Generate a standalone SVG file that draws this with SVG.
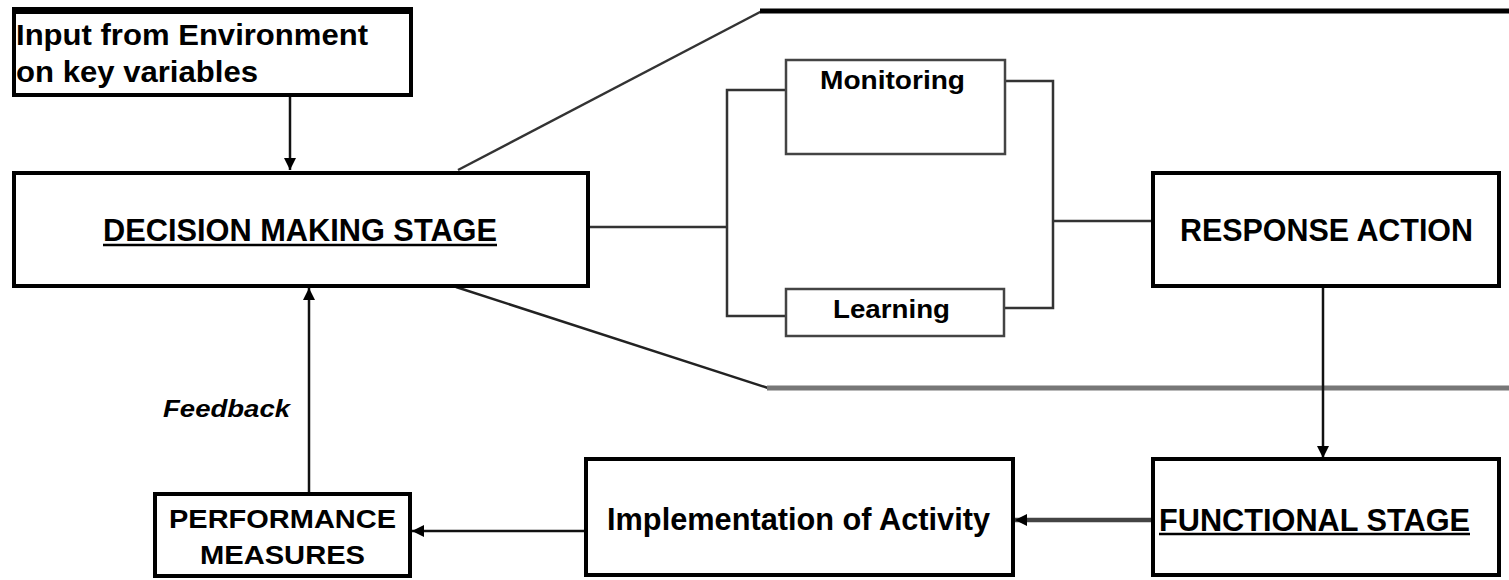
<svg xmlns="http://www.w3.org/2000/svg" width="1509" height="580" viewBox="0 0 1509 580">
  <defs>
    <marker id="arrow" viewBox="0 0 10 10" refX="10" refY="5" markerWidth="12" markerHeight="12" markerUnits="userSpaceOnUse" orient="auto">
      <path d="M0,0 L10,5 L0,10 Z" fill="#000"/>
    </marker>
    <style>
      .box { fill: #fff; stroke: #000; stroke-width: 4; }
      .thin { fill: #fff; stroke: #444; stroke-width: 2.5; }
      .lbl { font-family: "Liberation Sans", Arial, sans-serif; font-weight: bold; fill: #000; }
      .wire { fill: none; stroke: #333; stroke-width: 2.5; }
      .flow { fill: none; stroke: #111; stroke-width: 2.5; marker-end: url(#arrow); }
      .heavy { stroke: #444; stroke-width: 4.5; }
    </style>
  </defs>

  <!-- outline of the expanded decision process -->
  <g id="frame">
    <path d="M458,170 L762,11" fill="none" stroke="#333" stroke-width="2.5"/>
    <line x1="760" y1="11" x2="1509" y2="11" stroke="#000" stroke-width="5"/>
    <path d="M456,287 L768,388" fill="none" stroke="#222" stroke-width="2.5"/>
    <line x1="767" y1="388" x2="1509" y2="388" stroke="#777" stroke-width="5"/>
  </g>

  <g id="connectors">
    <line class="flow" x1="290" y1="95" x2="290" y2="170"/>
    <!-- split to monitoring / learning -->
    <polyline class="wire" points="588,227 727,227"/>
    <polyline class="wire" points="786,90 727,90 727,316 786,316"/>
    <polyline class="wire" points="1005,81 1053,81 1053,308 1004,308"/>
    <polyline class="wire" points="1053,221 1152,221"/>
    <line class="flow" x1="1323" y1="287" x2="1323" y2="458"/>
    <line class="flow heavy" x1="1152" y1="520" x2="1015" y2="520"/>
    <line class="flow" x1="585" y1="531" x2="412" y2="531"/>
    <line class="flow" x1="309" y1="493" x2="309" y2="288"/>
  </g>

  <g id="input">
    <rect class="box" x="14" y="10" width="397" height="85"/>
    <rect x="12" y="7" width="401" height="7" fill="#000"/>
    <text class="lbl" x="16" y="45" font-size="30" textLength="352" lengthAdjust="spacingAndGlyphs">Input from Environment</text>
    <text class="lbl" x="16" y="82" font-size="30" textLength="242" lengthAdjust="spacingAndGlyphs">on key variables</text>
  </g>

  <g id="decision">
    <rect class="box" x="14" y="173" width="574" height="113"/>
    <text class="lbl" x="103" y="241" font-size="32" textLength="394" lengthAdjust="spacingAndGlyphs">DECISION MAKING STAGE</text>
    <line x1="103" y1="245" x2="497" y2="245" stroke="#000" stroke-width="2.5"/>
  </g>

  <g id="monitoring">
    <rect class="thin" x="786" y="60" width="219" height="94"/>
    <text class="lbl" x="820" y="89" font-size="26" textLength="145" lengthAdjust="spacingAndGlyphs">Monitoring</text>
  </g>

  <g id="learning">
    <rect class="thin" x="786" y="289" width="218" height="47"/>
    <text class="lbl" x="833" y="318" font-size="26" textLength="117" lengthAdjust="spacingAndGlyphs">Learning</text>
  </g>

  <g id="response">
    <rect class="box" x="1153" y="173" width="346" height="113"/>
    <text class="lbl" x="1180" y="241" font-size="32" textLength="293" lengthAdjust="spacingAndGlyphs">RESPONSE ACTION</text>
  </g>

  <g id="functional">
    <rect class="box" x="1153" y="459" width="346" height="116"/>
    <text class="lbl" x="1159" y="531" font-size="32" textLength="311" lengthAdjust="spacingAndGlyphs">FUNCTIONAL STAGE</text>
    <line x1="1159" y1="534" x2="1470" y2="534" stroke="#000" stroke-width="2.5"/>
  </g>

  <g id="implementation">
    <rect class="box" x="586" y="459" width="427" height="116"/>
    <text class="lbl" x="607" y="530" font-size="32" textLength="383" lengthAdjust="spacingAndGlyphs">Implementation of Activity</text>
  </g>

  <g id="performance">
    <rect class="box" x="155" y="494" width="255" height="82"/>
    <text class="lbl" x="169" y="528" font-size="26" textLength="227" lengthAdjust="spacingAndGlyphs">PERFORMANCE</text>
    <text class="lbl" x="200" y="564" font-size="26" textLength="165" lengthAdjust="spacingAndGlyphs">MEASURES</text>
  </g>

  <text id="feedback-label" class="lbl" x="163" y="417" font-size="24" font-style="italic" textLength="127" lengthAdjust="spacingAndGlyphs">Feedback</text>
</svg>
